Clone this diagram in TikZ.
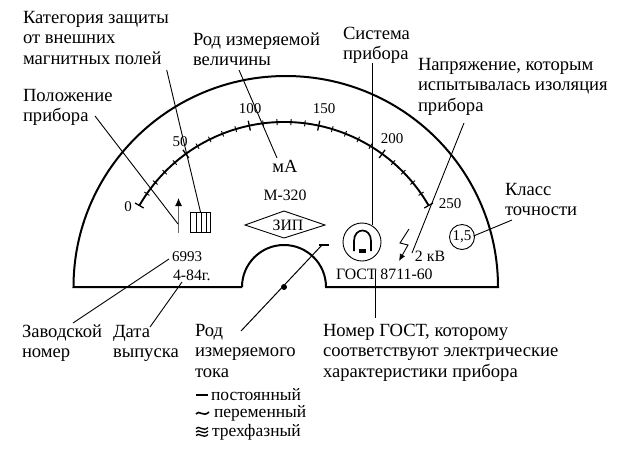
\documentclass[tikz,border=0pt]{standalone}
\usepackage{fontspec}
\setmainfont{Liberation Serif}
\usetikzlibrary{arrows.meta}
\tikzset{
  lbl/.style={anchor=north west,inner sep=0pt,outer sep=0pt,align=left,font=\fontsize{18.6}{20.8}\selectfont},
  leg/.style={anchor=west,inner sep=0pt,outer sep=0pt,font=\fontsize{17.5}{18}\selectfont},
  small/.style={inner sep=0pt,outer sep=0pt,font=\fontsize{15.8}{18}\selectfont},
  scalenum/.style={inner sep=0pt,outer sep=0pt,font=\fontsize{15}{18}\selectfont},
  leader/.style={draw,line width=0.9pt},
  body/.style={draw,line width=2pt}
}
\newcommand{\st}{\rule{0pt}{13pt}}
\begin{document}
\begin{tikzpicture}[x=1pt,y=-1pt]
\useasboundingbox (0,0) rectangle (644,448);
% body
\coordinate (bl) at (73.5,287);
\coordinate (br) at (498,287);
\coordinate (sl) at (242,287);
\coordinate (sr) at (326,287);
\draw[body,line join=miter] (sl) -- (bl) arc[start angle=180,end angle=0,x radius=212.25,y radius=-211] -- (sr)
   arc[start angle=0,end angle=180,x radius=42,y radius=-42];
% scale
\coordinate (sc) at (284,289);
\draw[line width=1.9pt] (sc) ++(150:167 and -167) arc[start angle=150,end angle=30,x radius=167,y radius=-167];
\foreach \i in {0,...,25}{
  \pgfmathsetmacro{\ang}{150-4.8*\i}
  \pgfmathtruncatemacro{\maj}{mod(\i,5)==0}
  \ifnum\maj=1
    \draw[line width=1.3pt] ([shift={(\ang:162 and -162)}]sc) -- ([shift={(\ang:172 and -172)}]sc);
  \else
    \draw[line width=0.9pt] ([shift={(\ang:164 and -164)}]sc) -- ([shift={(\ang:170 and -170)}]sc);
  \fi
}
\node[scalenum] (n0) at (128,207) {0};
\node[scalenum] (n50) at (180,142) {50};
\node[scalenum] (n100) at (250,109) {100};
\node[scalenum] (n150) at (324,109) {150};
\node[scalenum] (n200) at (392,139) {200};
\node[scalenum] (n250) at (450,204) {250};
\node[inner sep=0pt,font=\fontsize{18.5}{20}\selectfont] (ma) at (285,166) {мА};
\node[small] (model) at (285,195) {М-320};
% diamond
\draw[line width=0.9pt] (245,225) coordinate (dl) -- (284,211) -- (325,225) -- (284,238) -- cycle;
\node[small] (zip) at (288,225) {ЗИП};
% position arrow
\coordinate (posb) at (178.5,233);
\coordinate (post) at (178.5,198);
\draw[line width=0.9pt,black!60,-{Latex[black,length=8pt,width=7pt]}] (posb) -- (post);
% magnetic box
\node[draw,line width=0.9pt,minimum width=20pt,minimum height=20pt,inner sep=0pt,outer sep=0pt] (mag) at (200.7,222) {};
\foreach \x in {196,201,206}{\draw[line width=0.9pt] (\x,212) -- (\x,232);}
% numbers
\node[scalenum,anchor=west] (serial) at (172,257) {6993};
\node[small,anchor=west] (date) at (173,275) {4-84г.};
% needle
\coordinate (needlestart) at (241,331);
\coordinate (needleend) at (322,245);
\draw[line width=1pt] (needlestart) -- (needleend);
\draw[line width=1.8pt] (319,245) -- (329,245);
\fill (284,287) circle[radius=3];
% system circle
\node[draw,circle,line width=0.9pt,minimum size=38pt,inner sep=0pt,outer sep=0pt] (sys) at (362,242) {};
\draw[line width=1.7pt] (354,251) -- (354,241) .. controls (354,227) and (371,227) .. (371,241) -- (371,251);
\fill (359,249) rectangle (365.5,252.5);
% lightning
\draw[line width=0.9pt,-{Latex[length=7pt,width=6pt]}] (409,229) -- (400,243) -- (408,245) -- (399,261);
\node[small] (kv) at (430,256) {2 кВ};
\node[small,anchor=west] (gost) at (336,274) {ГОСТ 8711-60};
% class circle
\node[draw,circle,line width=0.9pt,minimum size=25pt,inner sep=0pt,outer sep=0pt,font=\fontsize{15}{18}\selectfont] (cls) at (462,237) {1,5};
% labels
\node[lbl] (t1) at (23,10) {\st Категория защиты\\от внешних\\магнитных полей};
\node[lbl] (t2) at (23,88) {\st Положение\\прибора};
\node[lbl] (t3) at (193,32) {\st Род измеряемой\\величины};
\node[lbl] (t4) at (343,26) {\st Система\\прибора};
\node[lbl] (t5) at (418,57) {\st Напряжение, которым\\испытывалась изоляция\\прибора};
\node[lbl] (t6) at (505,182) {\st Класс\\точности};
\node[lbl] (t7) at (22,324) {\st Заводской\\номер};
\node[lbl] (t8) at (113,324) {\st Дата\\выпуска};
\node[lbl] (t9) at (195,323) {\st Род\\измеряемого\\тока};
\node[lbl] (t10) at (323,323) {\st Номер ГОСТ, которому\\соответствуют электрические\\характеристики прибора};
\node[leg] (l1) at (211,394.5) {постоянный};
\node[leg] (l2) at (214,413) {переменный};
\node[leg] (l3) at (212,432) {трехфазный};
% legend symbols
\draw[line width=1.7pt] (196,395) -- (208,395);
\draw[line width=1.6pt] (196,414) .. controls (199,409) and (203,418) .. (209,412);
\foreach \d in {-3.5,0,3.5}{
  \draw[line width=1.3pt] (196,432+\d) .. controls (199,428+\d) and (203,436+\d) .. (208,431+\d);
}
% leaders
\draw[leader] (166.7,70) coordinate (a1) -- (200.5,212);
\draw[leader] (95,116) coordinate (a2) -- (178,224);
\draw[leader] (239,70) coordinate (a3) -- (277,158);
\draw[leader] (372,63) coordinate (a4) -- (372,225);
\draw[leader] (464,123) coordinate (a5) -- (412,253);
\draw[leader] (512,220) coordinate (a6) -- (473.5,236);
\draw[leader] (73,323) coordinate (a7) -- (169,259);
\draw[leader] (150,327) coordinate (a8) -- (182,282);
\draw[leader] (375,270) coordinate (a9) -- (375,318);
\end{tikzpicture}
\end{document}
